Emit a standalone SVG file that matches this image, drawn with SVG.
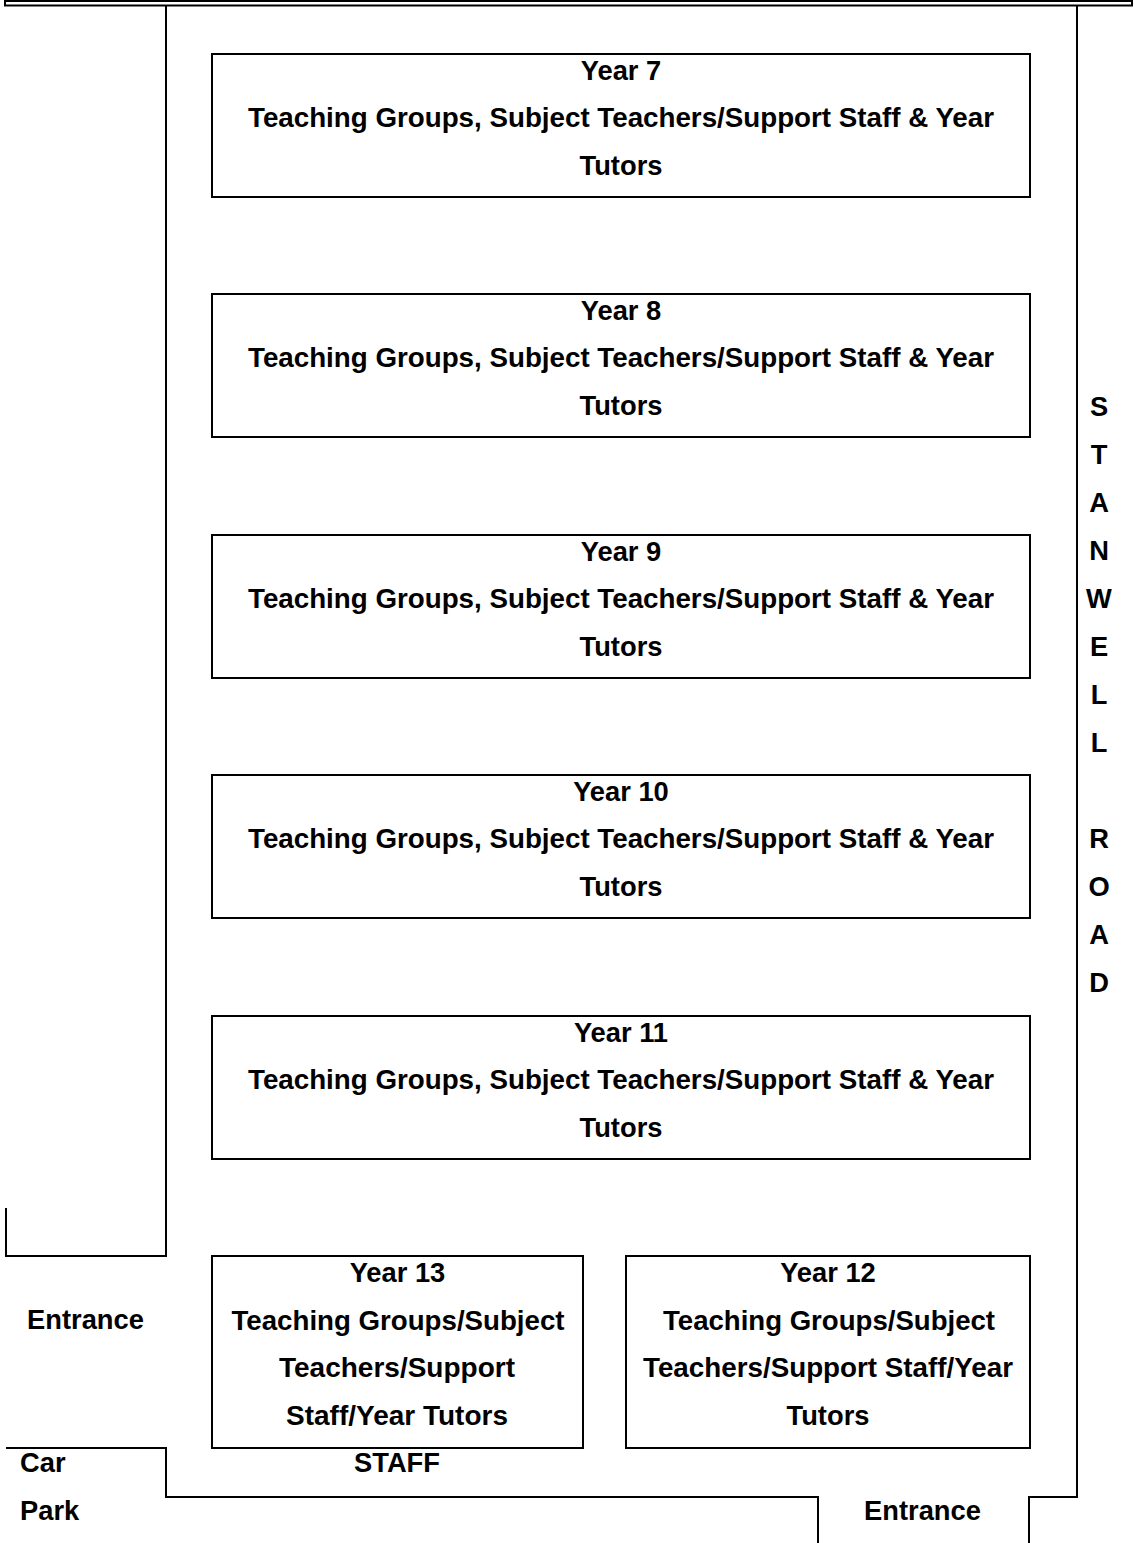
<svg xmlns="http://www.w3.org/2000/svg" width="1134" height="1543" viewBox="0 0 1134 1543">
<style>
.ln{fill:none;stroke:#000;stroke-width:2}
.bx{fill:#fff;stroke:#000;stroke-width:2}
text{font-family:"Liberation Sans",Arial,sans-serif;font-weight:bold;font-size:27.3px;fill:#000;text-anchor:middle}
.l{text-anchor:start}
</style>
<rect width="1134" height="1543" fill="#fff"/>
<g id="walls">
<rect x="5" y="1" width="1127" height="4.5" fill="none" stroke="#000" stroke-width="2"/>
<path class="ln" d="M166,5 V1256 H6 V1208"/>
<path class="ln" d="M1077,5 V1497 H1029 V1543"/>
<path class="ln" d="M6,1448 H166 V1497 H818 V1543"/>
</g>
<g id="year7">
<rect class="bx" x="212" y="54" width="818" height="143"/>
<text x="621" y="80">Year 7</text>
<text x="621" y="127" textLength="746" lengthAdjust="spacingAndGlyphs">Teaching Groups, Subject Teachers/Support Staff &amp; Year</text>
<text x="621" y="175">Tutors</text>
</g>
<g id="year8">
<rect class="bx" x="212" y="294" width="818" height="143"/>
<text x="621" y="320">Year 8</text>
<text x="621" y="367" textLength="746" lengthAdjust="spacingAndGlyphs">Teaching Groups, Subject Teachers/Support Staff &amp; Year</text>
<text x="621" y="415">Tutors</text>
</g>
<g id="year9">
<rect class="bx" x="212" y="535" width="818" height="143"/>
<text x="621" y="561">Year 9</text>
<text x="621" y="608" textLength="746" lengthAdjust="spacingAndGlyphs">Teaching Groups, Subject Teachers/Support Staff &amp; Year</text>
<text x="621" y="656">Tutors</text>
</g>
<g id="year10">
<rect class="bx" x="212" y="775" width="818" height="143"/>
<text x="621" y="801">Year 10</text>
<text x="621" y="848" textLength="746" lengthAdjust="spacingAndGlyphs">Teaching Groups, Subject Teachers/Support Staff &amp; Year</text>
<text x="621" y="896">Tutors</text>
</g>
<g id="year11">
<rect class="bx" x="212" y="1016" width="818" height="143"/>
<text x="621" y="1042">Year 11</text>
<text x="621" y="1089" textLength="746" lengthAdjust="spacingAndGlyphs">Teaching Groups, Subject Teachers/Support Staff &amp; Year</text>
<text x="621" y="1137">Tutors</text>
</g>
<g id="year13">
<rect class="bx" x="212" y="1256" width="371" height="192"/>
<text x="397.5" y="1282">Year 13</text>
<text x="398" y="1330" textLength="333" lengthAdjust="spacingAndGlyphs">Teaching Groups/Subject</text>
<text x="397" y="1377" textLength="236" lengthAdjust="spacingAndGlyphs">Teachers/Support</text>
<text x="397" y="1425" textLength="222" lengthAdjust="spacingAndGlyphs">Staff/Year Tutors</text>
</g>
<g id="year12">
<rect class="bx" x="626" y="1256" width="404" height="192"/>
<text x="828" y="1282">Year 12</text>
<text x="829" y="1330" textLength="332" lengthAdjust="spacingAndGlyphs">Teaching Groups/Subject</text>
<text x="828" y="1377" textLength="370" lengthAdjust="spacingAndGlyphs">Teachers/Support Staff/Year</text>
<text x="828" y="1425">Tutors</text>
</g>
<g id="labels">
<text x="85.5" y="1329">Entrance</text>
<text class="l" x="20" y="1472">Car</text>
<text class="l" x="20" y="1520">Park</text>
<text x="397" y="1472">STAFF</text>
<text x="922.5" y="1520">Entrance</text>
</g>
<g id="road">
<text x="1099" y="416">S</text>
<text x="1099" y="464">T</text>
<text x="1099" y="512">A</text>
<text x="1099" y="560">N</text>
<text x="1099" y="608">W</text>
<text x="1099" y="656">E</text>
<text x="1099" y="704">L</text>
<text x="1099" y="752">L</text>
<text x="1099" y="848">R</text>
<text x="1099" y="896">O</text>
<text x="1099" y="944">A</text>
<text x="1099" y="992">D</text>
</g>
</svg>
